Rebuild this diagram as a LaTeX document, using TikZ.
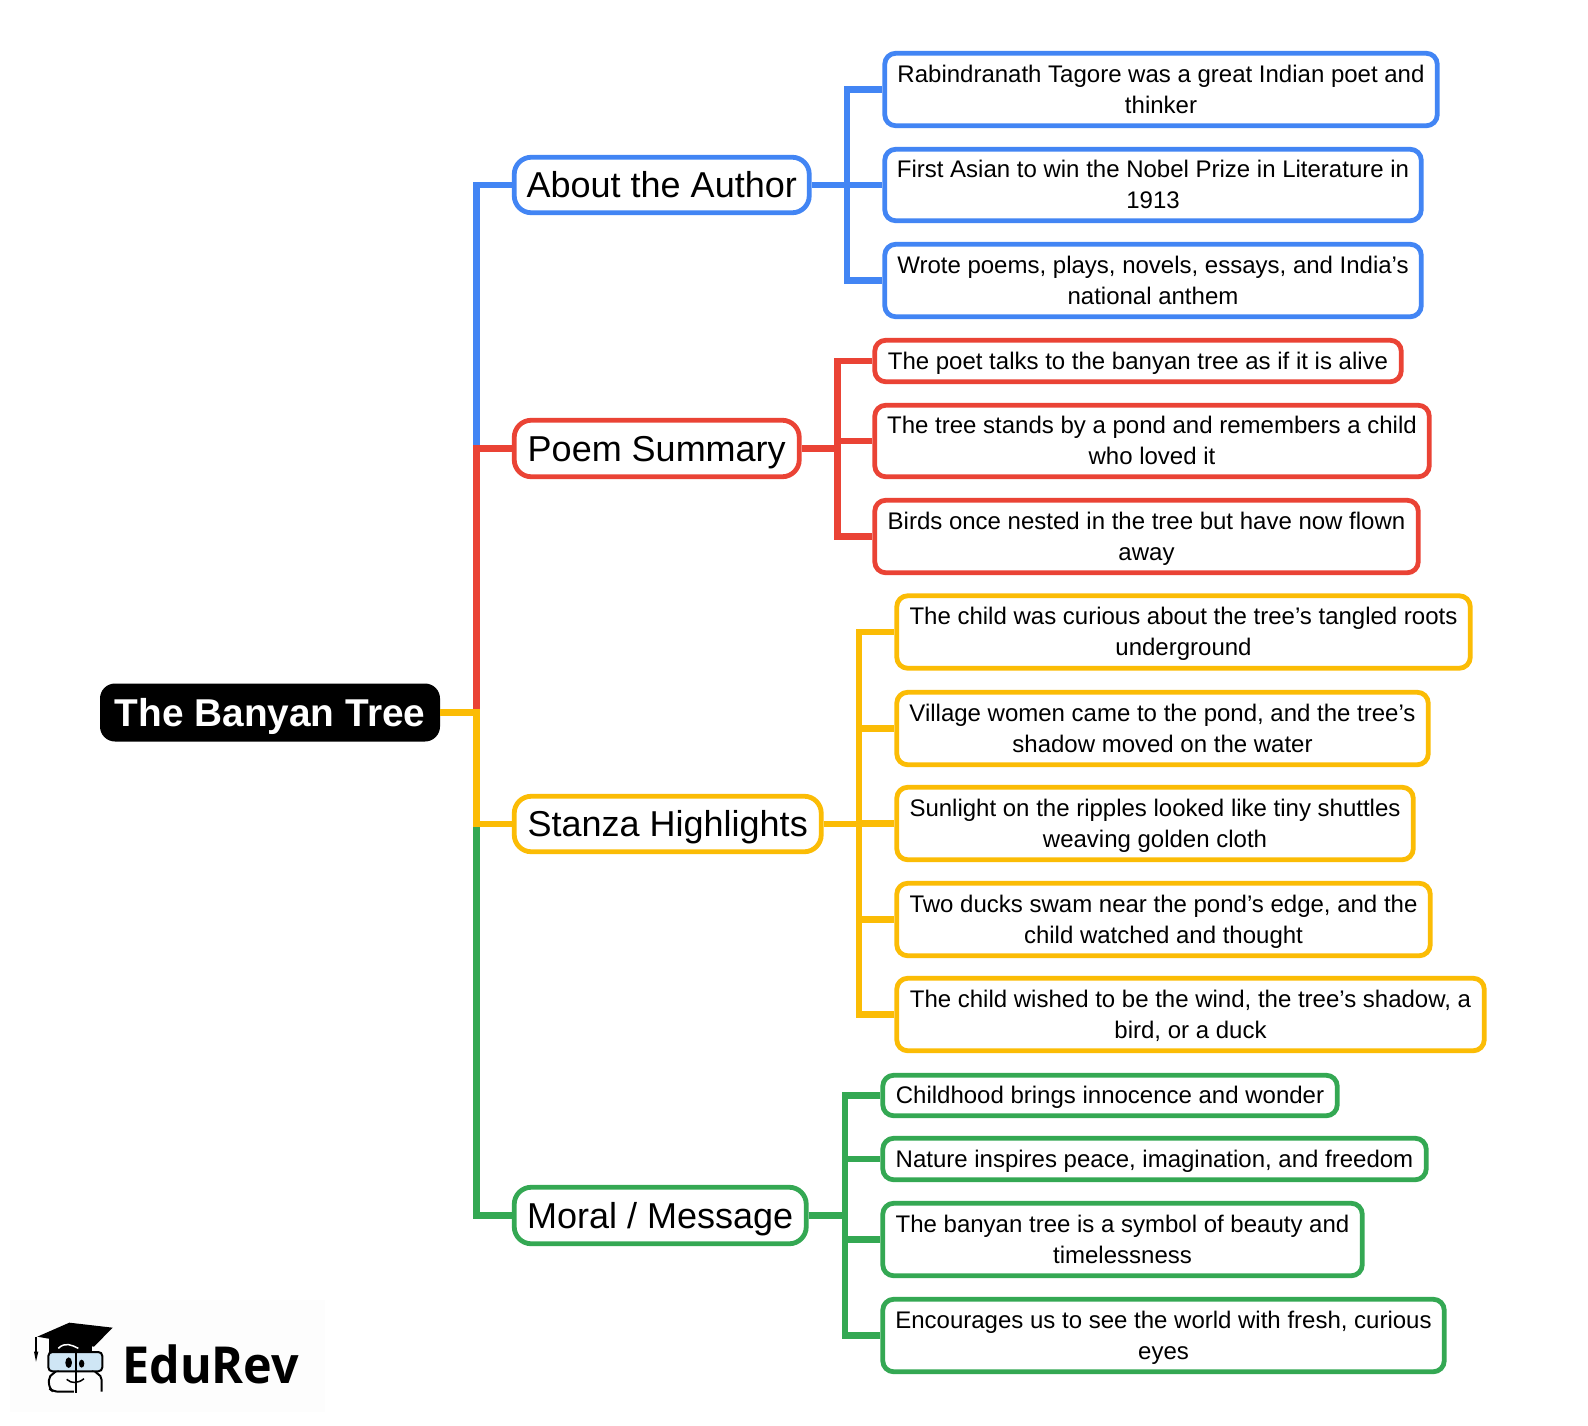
\documentclass[tikz,border=0pt]{standalone}
\usepackage{fontspec}
\setmainfont{Liberation Sans}
\newfontfamily\logoFont{Open Sans}
\definecolor{authorColor}{HTML}{4285F4}
\definecolor{summaryColor}{HTML}{EA4335}
\definecolor{stanzaColor}{HTML}{FBBC05}
\definecolor{moralColor}{HTML}{34A853}
\definecolor{glassColor}{HTML}{CFE6F5}
\definecolor{logoPaper}{HTML}{FDFDFD}
\tikzstyle{mindMap} = [x = 1pt, y = -1pt]
\tikzstyle{rootStyle} = [fill=black, text=white, rounded corners = 15pt, inner sep = 0pt, text height = 27.6pt, text depth = 0pt, font=\fontsize{38.8}{44}\bfseries]
\tikzstyle{branchStyle} = [draw, fill=white, line width = 4.8pt, rounded corners = 17pt, inner sep = 0pt, text=black, text height = 25.8pt, text depth = 0pt, font=\fontsize{36}{42}\selectfont]
\tikzstyle{leafStyle} = [draw, fill=white, line width = 4.8pt, rounded corners = 11pt, inner sep = 0pt, text=black, align=center, font=\fontsize{24}{31}\selectfont]
\tikzstyle{linkLine} = [line width = 6.5pt]
\newcommand{\leafStrut}{\rule[-7.2pt]{0pt}{30.9pt}}
\newcommand{\branchBox}[7]{\node [branchStyle, draw=#2, minimum width = {(#4 - #3 - 3.5) * 1pt}, minimum height = {(#6 - #5 - 2.5) * 1pt}] (#1) at ({(#3 + #4) / 2}, {(#5 + #6) / 2}) {#7};}
\newcommand{\leafBox}[7]{\node [leafStyle, draw=#2, minimum width = {(#4 - #3 - 3.5) * 1pt}, minimum height = {(#6 - #5 - 2.5) * 1pt}] (#1) at ({(#3 + #4) / 2}, {(#5 + #6) / 2}) {\leafStrut #7\leafStrut};}
\newcommand{\leafLinks}[4]{
  \draw [linkLine, color=#3] (#1.east) -- (#2 |- #1.east);
  \foreach \leaf in {#4} {
    \draw [linkLine, color=#3] (\leaf.west) -| (#2 |- #1.east);
  }
}
\begin{document}
\begin{tikzpicture}[mindMap]
  \useasboundingbox (0,0) rectangle (1588,1425);
  \fill [white] (0,0) rectangle (1588,1425);

  \coordinate (trunk) at (476.5,0);
  \coordinate (authorBus) at (847,0);
  \coordinate (summaryBus) at (837.5,0);
  \coordinate (stanzaBus) at (859,0);
  \coordinate (moralBus) at (845,0);

  \node [rootStyle, minimum width = 340pt, minimum height = 58pt] (root) at (270,712.5) {The Banyan Tree};

  \branchBox{author}{authorColor}{512.5}{811}{156}{214}{About the Author}
  \branchBox{summary}{summaryColor}{512.5}{801}{419}{478}{Poem Summary}
  \branchBox{stanza}{stanzaColor}{512.5}{823}{795}{853}{Stanza Highlights}
  \branchBox{moral}{moralColor}{512.5}{808}{1186}{1245}{Moral / Message}

  \leafBox{authorA}{authorColor}{883}{1439}{52}{127}{Rabindranath Tagore was a great Indian poet and\\thinker}
  \leafBox{authorB}{authorColor}{883}{1423}{148}{222}{First Asian to win the Nobel Prize in Literature in\\1913}
  \leafBox{authorC}{authorColor}{883}{1423}{243}{318}{Wrote poems, plays, novels, essays, and India’s\\national anthem}

  \leafBox{summaryA}{summaryColor}{873}{1403}{339}{383}{The poet talks to the banyan tree as if it is alive}
  \leafBox{summaryB}{summaryColor}{873}{1431}{404}{478}{The tree stands by a pond and remembers a child\\who loved it}
  \leafBox{summaryC}{summaryColor}{873}{1420}{499}{574}{Birds once nested in the tree but have now flown\\away}

  \leafBox{stanzaA}{stanzaColor}{895}{1472}{594.5}{669.5}{The child was curious about the tree’s tangled roots\\underground}
  \leafBox{stanzaB}{stanzaColor}{895}{1430}{691}{766}{Village women came to the pond, and the tree’s\\shadow moved on the water}
  \leafBox{stanzaC}{stanzaColor}{895}{1415}{786}{861}{Sunlight on the ripples looked like tiny shuttles\\weaving golden cloth}
  \leafBox{stanzaD}{stanzaColor}{895}{1432}{882}{957}{Two ducks swam near the pond’s edge, and the\\child watched and thought}
  \leafBox{stanzaE}{stanzaColor}{895}{1486}{977}{1052}{The child wished to be the wind, the tree’s shadow, a\\bird, or a duck}

  \leafBox{moralA}{moralColor}{881}{1339}{1074}{1117}{Childhood brings innocence and wonder}
  \leafBox{moralB}{moralColor}{881}{1428}{1137}{1181}{Nature inspires peace, imagination, and freedom}
  \leafBox{moralC}{moralColor}{881}{1364}{1202}{1277}{The banyan tree is a symbol of beauty and\\timelessness}
  \leafBox{moralD}{moralColor}{881}{1446}{1298}{1373}{Encourages us to see the world with fresh, curious\\eyes}

  \foreach \branch/\branchColor in {author/authorColor, summary/summaryColor, moral/moralColor, stanza/stanzaColor} {
    \draw [linkLine, color=\branchColor] (\branch.west) -| (trunk |- root.east) -- (root.east);
  }
  \leafLinks{author}{authorBus}{authorColor}{authorA,authorB,authorC}
  \leafLinks{summary}{summaryBus}{summaryColor}{summaryA,summaryB,summaryC}
  \leafLinks{stanza}{stanzaBus}{stanzaColor}{stanzaA,stanzaB,stanzaC,stanzaD,stanzaE}
  \leafLinks{moral}{moralBus}{moralColor}{moralA,moralB,moralC,moralD}

  \fill [logoPaper] (10,1300) rectangle (325,1412);
  \node [anchor=base west, inner sep = 0pt, font=\fontsize{51}{60}\logoFont\bfseries] (logoText) at (122,1383) {\scalebox{.95}[1]{EduRev}};
  \begin{scope}[shift={(0,1280)}, x = .3333pt, y = -.3333pt]
    \fill [black] (148,170) rectangle (275,215);
    \draw [white, line width = 1.5pt] (175,205) .. controls (195,185) and (215,195) .. (235,205);
    \fill [black] (112,170) -- (208,128) -- (338,143) -- (282,200) -- cycle;
    \draw [black, line width = 1.2pt] (108,170) -- (108,215);
    \fill [black] (102,215) -- (115,215) -- (108,245) -- cycle;
    \draw [black, fill=glassColor, line width = 2pt, rounded corners = 4pt] (145,216) rectangle (307,274);
    \draw [black, line width = 2pt, rounded corners = 5pt] (160,280) -- (147,285) -- (147,325) -- (160,335) -- (222,335);
    \draw [black, line width = 2pt, rounded corners = 5pt] (292,280) -- (305,285) -- (305,335);
    \draw [black, line width = 2pt] (228,210) -- (228,338);
    \fill [black] (206,248) ellipse (10 and 16);
    \fill [black] (245,251) ellipse (8 and 12);
    \draw [black, line width = 1.5pt] (200,298) .. controls (215,312) and (235,310) .. (252,296);
  \end{scope}
\end{tikzpicture}
\end{document}
